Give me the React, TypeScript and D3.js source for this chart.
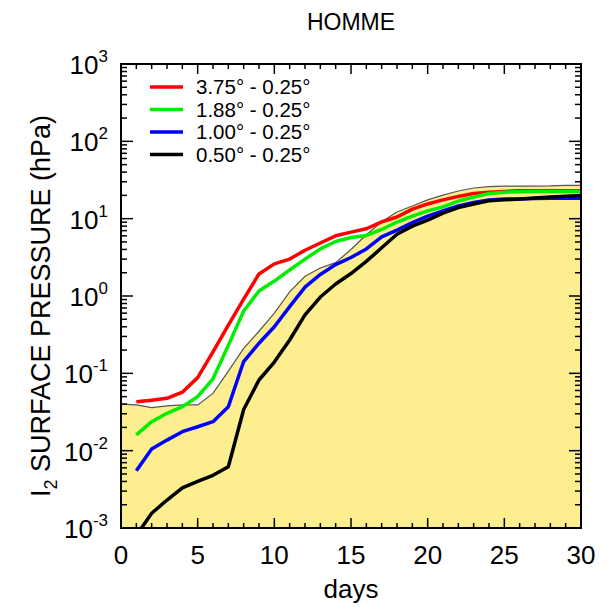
import React from "react";
import * as d3 from "d3";

const envDays = d3.range(0, 31);
const envelope = [0.040, 0.039, 0.036, 0.038, 0.039, 0.039, 0.055, 0.107, 0.21, 0.35, 0.60, 1.13, 1.8, 2.3, 2.7, 4.0, 6.2, 9.1, 12.2, 14.6, 17.5, 20.2, 22.8, 24.9, 26, 26.3, 26.3, 26.3, 26.5, 27, 27];

const days = d3.range(1, 31);
const red = [0.043, 0.045, 0.0475, 0.057, 0.088, 0.19, 0.42, 0.91, 1.93, 2.6, 3.0, 3.9, 4.85, 6.0, 6.7, 7.4, 9.1, 10.5, 13.3, 15.5, 17.5, 19.4, 21.2, 22, 22.5, 23, 23, 23, 23, 23];
const green = [0.016, 0.0237, 0.0304, 0.037, 0.05, 0.085, 0.23, 0.64, 1.16, 1.56, 2.17, 3.0, 4.06, 5.07, 5.7, 6.07, 7.25, 9.05, 10.8, 12.6, 14.2, 16.9, 19, 21.2, 22, 22.3, 22.5, 22.5, 22.5, 22.5];
const blue = [0.0055, 0.0105, 0.0137, 0.0176, 0.0204, 0.0237, 0.037, 0.142, 0.245, 0.40, 0.73, 1.3, 1.9, 2.55, 3.15, 4.06, 5.8, 7.1, 8.9, 10.8, 12.6, 14.6, 16.2, 17.5, 18, 18, 18.2, 18.3, 18.3, 18.3];
const black = [0.0008, 0.00155, 0.0023, 0.0033, 0.004, 0.0048, 0.0062, 0.034, 0.082, 0.14, 0.27, 0.57, 0.97, 1.43, 1.95, 2.8, 4.2, 6.3, 8.0, 9.6, 11.8, 13.9, 15.5, 17, 17.5, 18, 18.5, 19, 19.5, 20];

const seriesNames = ["3.75° - 0.25°", "1.88° - 0.25°", "1.00° - 0.25°", "0.50° - 0.25°"];
const seriesColors = ["#ff0000", "#00ee00", "#0000ff", "#000000"];
const seriesValues = [red, green, blue, black];

const xTicks = [0, 5, 10, 15, 20, 25, 30];
const yExponents = [-3, -2, -1, 0, 1, 2, 3];

const title = "HOMME";
const xTitle = "days";

export default function App() {
  const W = 607, H = 607;
  const L = 121, R = 581, T = 64, B = 528;
  const x = d3.scaleLinear().domain([0, 30]).range([L, R]);
  const y = d3.scaleLog().domain([1e-3, 1e3]).range([B, T]);

  const line = d3.line<[number, number]>().x(d => x(d[0])).y(d => y(d[1]));
  const area = d3.area<[number, number]>().x(d => x(d[0])).y0(B).y1(d => y(d[1]));
  const envPts: [number, number][] = envDays.map((d, i) => [d, envelope[i]]);

  const minorX = d3.range(0, 31);
  const minorY: number[] = [];
  for (let e = -3; e < 3; e++) for (let k = 2; k <= 9; k++) minorY.push(k * Math.pow(10, e));

  const font = "Liberation Sans, Arial, Helvetica, sans-serif";

  return (
    <svg width={W} height={H} style={{ position: "absolute", left: 0, top: 0, background: "#fff" }} fontFamily={font}>
      <defs>
        <clipPath id="plotclip"><rect x={L} y={T} width={R - L} height={B - T} /></clipPath>
      </defs>
      <g clipPath="url(#plotclip)">
        <path d={area(envPts)!} fill="#fdee90" stroke="none" />
        <path d={line(envPts)!} fill="none" stroke="#555" strokeWidth={1.2} />
        {seriesValues.map((vals, si) => (
          <path key={si} d={line(days.map((d, i) => [d, vals[i]] as [number, number]))!} fill="none" stroke={seriesColors[si]} strokeWidth={3.5} strokeLinejoin="round" />
        ))}
      </g>
      {/* ticks */}
      <g stroke="#000" strokeWidth={1.5}>
        {minorX.map(d => {
          const len = d % 5 === 0 ? 10 : 5;
          return (
            <g key={"xt" + d}>
              <line x1={x(d)} x2={x(d)} y1={B} y2={B - len} />
              <line x1={x(d)} x2={x(d)} y1={T} y2={T + len} />
            </g>
          );
        })}
        {yExponents.map(e => (
          <g key={"yt" + e}>
            <line x1={L} x2={L + 12} y1={y(Math.pow(10, e))} y2={y(Math.pow(10, e))} />
            <line x1={R} x2={R - 12} y1={y(Math.pow(10, e))} y2={y(Math.pow(10, e))} />
          </g>
        ))}
        {minorY.map((v, i) => (
          <g key={"ym" + i}>
            <line x1={L} x2={L + 6} y1={y(v)} y2={y(v)} />
            <line x1={R} x2={R - 6} y1={y(v)} y2={y(v)} />
          </g>
        ))}
      </g>
      <rect x={L} y={T} width={R - L} height={B - T} fill="none" stroke="#000" strokeWidth={2} />
      {/* tick labels */}
      {xTicks.map(t => (
        <text key={"xl" + t} x={x(t)} y={564} textAnchor="middle" fontSize={26}>{t}</text>
      ))}
      {yExponents.map(e => (
        <text key={"yl" + e} x={108} y={y(Math.pow(10, e)) + 10} textAnchor="end" fontSize={26}>
          10<tspan dy={-12} fontSize={17}>{e}</tspan>
        </text>
      ))}
      <text x={351} y={598} textAnchor="middle" fontSize={26}>{xTitle}</text>
      <text x={351} y={30} textAnchor="middle" fontSize={23}>{title}</text>
      <text transform={`translate(50,306) rotate(-90)`} textAnchor="middle" fontSize={27}>
        I<tspan dy={7} fontSize={18}>2</tspan><tspan dy={-7}> SURFACE PRESSURE (hPa)</tspan>
      </text>
      {/* legend */}
      {seriesNames.map((n, i) => (
        <g key={"lg" + i}>
          <line x1={150} x2={183} y1={87 + i * 22.5} y2={87 + i * 22.5} stroke={seriesColors[i]} strokeWidth={3.5} />
          <text x={196} y={87 + i * 22.5 + 7} fontSize={20.5}>{n}</text>
        </g>
      ))}
    </svg>
  );
}
